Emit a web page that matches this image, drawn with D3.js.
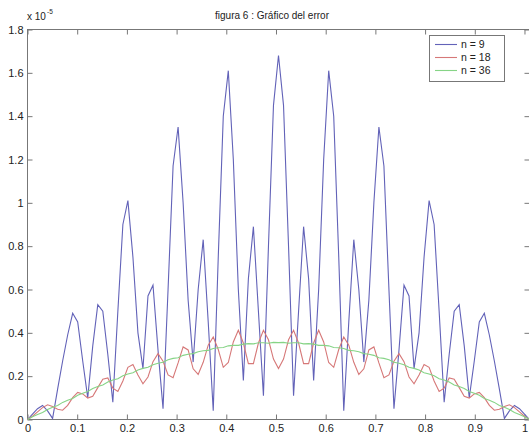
<!DOCTYPE html>
<html>
<head>
<meta charset="utf-8">
<script src="https://cdn.jsdelivr.net/npm/d3@7"></script>
<style>
  body { margin: 0; background: #fff; }
  text { font-family: "Liberation Sans", Arial, Helvetica, sans-serif; fill: #222; }
</style>
</head>
<body>
<svg id="chart" width="529" height="436"></svg>
<script>
// sampling grid: 101 points spaced 1/99 (as plotted in the original figure)
var nSamples = 101, xStep = 1 / 99;

// error values, units of 1e-5
var errN9 = [
  0, 0.025, 0.05, 0.065, 0.04, 0.005, 0.14, 0.27, 0.39, 0.49, 0.45,
  0.27, 0.10, 0.34, 0.53, 0.50, 0.30, 0.08, 0.50, 0.90, 1.01,
  0.75, 0.40, 0.235, 0.57, 0.62, 0.32, 0.05, 0.60, 1.17, 1.35,
  1.00, 0.55, 0.265, 0.60, 0.83, 0.45, 0.04, 0.75, 1.40, 1.61,
  1.20, 0.60, 0.18, 0.65, 0.89, 0.50, 0.11, 0.80, 1.45, 1.68,
  1.45, 0.80, 0.11, 0.50, 0.89, 0.65, 0.18, 0.60, 1.20, 1.61,
  1.40, 0.75, 0.04, 0.45, 0.83, 0.60, 0.265, 0.55, 1.00, 1.35,
  1.17, 0.60, 0.05, 0.32, 0.62, 0.57, 0.235, 0.40, 0.75, 1.01,
  0.90, 0.50, 0.08, 0.30, 0.50, 0.53, 0.34, 0.10, 0.27, 0.45,
  0.49, 0.39, 0.27, 0.14, 0.005, 0.04, 0.065, 0.05, 0.025, 0
];
var errN18 = [
  0, 0.015, 0.035, 0.055, 0.068, 0.06, 0.047, 0.043, 0.065, 0.101, 0.125,
  0.118, 0.099, 0.107, 0.147, 0.186, 0.192, 0.145, 0.129, 0.178, 0.241,
  0.254, 0.205, 0.165, 0.196, 0.267, 0.304, 0.269, 0.206, 0.193, 0.261,
  0.335, 0.321, 0.234, 0.208, 0.264, 0.343, 0.381, 0.323, 0.241, 0.263,
  0.358, 0.412, 0.353, 0.258, 0.258, 0.353, 0.412, 0.368, 0.279, 0.235,
  0.279, 0.368, 0.412, 0.353, 0.258, 0.258, 0.353, 0.412, 0.358, 0.263,
  0.241, 0.323, 0.381, 0.343, 0.264, 0.208, 0.234, 0.321, 0.335, 0.261,
  0.193, 0.206, 0.269, 0.304, 0.267, 0.196, 0.165, 0.205, 0.254, 0.241,
  0.178, 0.129, 0.145, 0.192, 0.186, 0.147, 0.107, 0.099, 0.118, 0.125,
  0.101, 0.065, 0.043, 0.047, 0.06, 0.068, 0.055, 0.035, 0.015, 0
];
var errN36 = [
  0, 0.013, 0.023, 0.032, 0.046, 0.057, 0.065, 0.079, 0.089, 0.097, 0.112,
  0.121, 0.129, 0.143, 0.152, 0.159, 0.173, 0.182, 0.188, 0.202, 0.210,
  0.216, 0.228, 0.236, 0.241, 0.253, 0.260, 0.264, 0.276, 0.282, 0.285,
  0.296, 0.301, 0.304, 0.313, 0.317, 0.319, 0.328, 0.331, 0.332, 0.340,
  0.342, 0.342, 0.348, 0.350, 0.349, 0.354, 0.354, 0.352, 0.356, 0.355,
  0.356, 0.352, 0.354, 0.354, 0.349, 0.350, 0.348, 0.342, 0.342, 0.340,
  0.332, 0.331, 0.328, 0.319, 0.317, 0.313, 0.304, 0.301, 0.296, 0.285,
  0.282, 0.276, 0.264, 0.260, 0.253, 0.241, 0.236, 0.228, 0.216, 0.210,
  0.202, 0.188, 0.182, 0.173, 0.159, 0.152, 0.143, 0.129, 0.121, 0.112,
  0.097, 0.089, 0.079, 0.065, 0.057, 0.046, 0.032, 0.023, 0.013, 0
];

var seriesNames = ["n = 9", "n = 18", "n = 36"];
var seriesColors = ["#6262b8", "#d67878", "#86d486"];
var xTicks = [0, 0.1, 0.2, 0.3, 0.4, 0.5, 0.6, 0.7, 0.8, 0.9, 1];
var yTicks = [0, 0.2, 0.4, 0.6, 0.8, 1, 1.2, 1.4, 1.6, 1.8];

var xs = d3.range(nSamples).map(function(k) { return k * xStep; });
var series = [errN9, errN18, errN36];

var svg = d3.select("#chart");

// plot box (window.top is reserved, so other names)
var plotLeft = 27.5, plotRight = 529.5, plotTop = 29.5, plotBottom = 419.5;

var x = d3.scaleLinear().domain([0, xs[xs.length - 1]]).range([plotLeft, plotRight]);
var y = d3.scaleLinear().domain([0, 1.8]).range([plotBottom, plotTop]);

var fmt = function(d) { return d3.format("~g")(d); };
var axisColor = "#777";

// frame
svg.append("rect")
  .attr("x", plotLeft).attr("y", plotTop)
  .attr("width", plotRight - plotLeft).attr("height", plotBottom - plotTop)
  .attr("fill", "#fff").attr("stroke", axisColor).attr("stroke-width", 1);

// axes, ticks pointing inward like matlab
var gx = svg.append("g").attr("transform", "translate(0," + plotBottom + ")")
  .call(d3.axisBottom(x).tickValues(xTicks).tickFormat(fmt).tickSize(-5).tickSizeOuter(0).tickPadding(5));
var gxTop = svg.append("g").attr("transform", "translate(0," + plotTop + ")")
  .call(d3.axisTop(x).tickValues(xTicks).tickFormat("").tickSize(-5).tickSizeOuter(0));
var gy = svg.append("g").attr("transform", "translate(" + plotLeft + ",0)")
  .call(d3.axisLeft(y).tickValues(yTicks).tickFormat(fmt).tickSize(-5).tickSizeOuter(0).tickPadding(4));
var gyRight = svg.append("g").attr("transform", "translate(" + plotRight + ",0)")
  .call(d3.axisRight(y).tickValues(yTicks).tickFormat("").tickSize(-5).tickSizeOuter(0));

[gx, gxTop, gy, gyRight].forEach(function(g) {
  g.select(".domain").remove();
  g.selectAll(".tick line").attr("stroke", axisColor);
  g.selectAll(".tick text").style("font-size", "11px").attr("fill", "#2a2a2a");
});

// lines
var line = d3.line()
  .x(function(d, i) { return x(xs[i]); })
  .y(function(d) { return y(d); });

series.forEach(function(s, i) {
  svg.append("path")
    .datum(s)
    .attr("d", line)
    .attr("fill", "none")
    .attr("stroke", seriesColors[i])
    .attr("stroke-width", 1.1);
});

// title
svg.append("text")
  .attr("x", 272).attr("y", 19)
  .attr("text-anchor", "middle")
  .style("font-size", "10px")
  .text("figura 6 : Gráfico del error");

// exponent label
svg.append("text").attr("x", 27).attr("y", 20).style("font-size", "10px").text("x 10");
svg.append("text").attr("x", 47).attr("y", 14).style("font-size", "6.5px").text("-5");

// legend
var legend = svg.append("g");
legend.append("rect")
  .attr("x", 429.5).attr("y", 35.5).attr("width", 75).attr("height", 46)
  .attr("fill", "#fff").attr("stroke", "#777");
seriesNames.forEach(function(name, i) {
  var ly = 44.5 + i * 13;
  legend.append("line")
    .attr("x1", 435).attr("x2", 457).attr("y1", ly).attr("y2", ly)
    .attr("stroke", seriesColors[i]).attr("stroke-width", 1.1);
  legend.append("text")
    .attr("x", 461).attr("y", ly).attr("dy", "0.35em")
    .style("font-size", "10.5px")
    .text(name);
});
</script>
</body>
</html>
